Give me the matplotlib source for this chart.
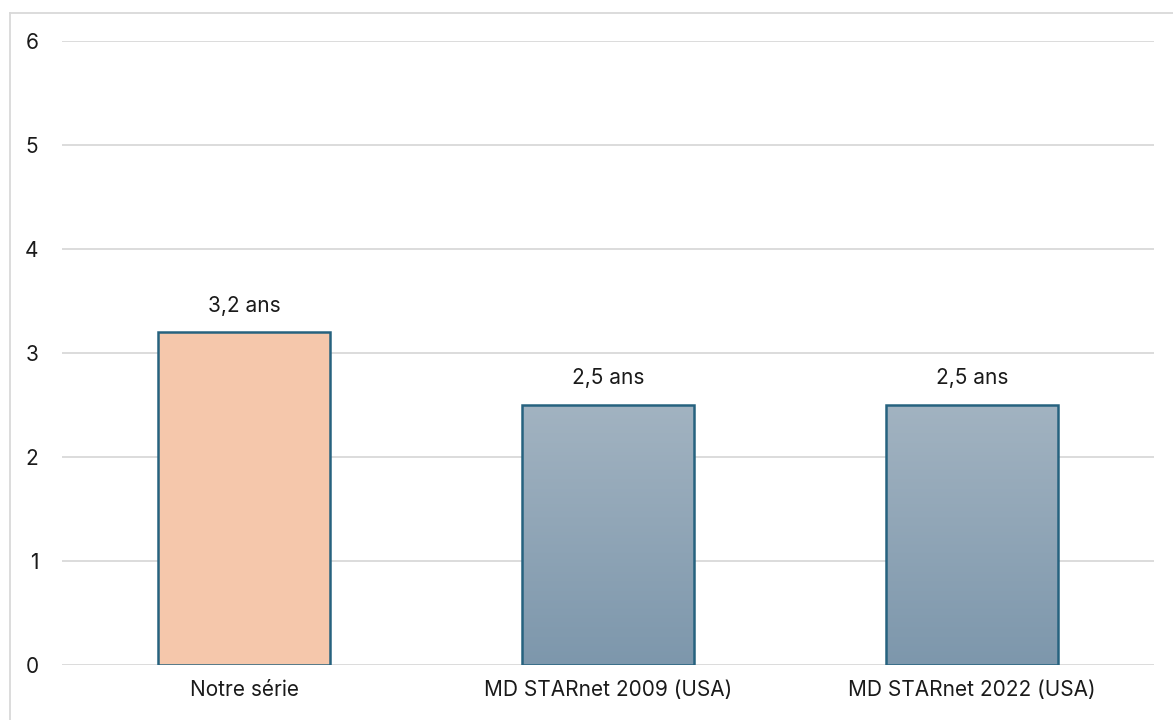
import matplotlib
matplotlib.use("Agg")
import matplotlib.pyplot as plt
import numpy as np
from matplotlib.colors import LinearSegmentedColormap

categories = ["Notre série", "MD STARnet 2009 (USA)", "MD STARnet 2022 (USA)"]
values = [3.2, 2.5, 2.5]
value_labels = ["3,2 ans", "2,5 ans", "2,5 ans"]
yticks = [0, 1, 2, 3, 4, 5, 6]

plt.rcParams['font.family'] = ['Inter', 'DejaVu Sans']

W, H = 1173, 720
fig = plt.figure(figsize=(W / 100, H / 100), dpi=100)
ax = fig.add_axes([62 / W, 1 - 665 / H, 1092 / W, 624 / H])

edge = "#26627f"
peach = "#f5c7ab"
x = np.arange(len(categories))
bars = ax.bar(x, values, width=0.473, color=[peach, "none", "none"],
              edgecolor=edge, linewidth=1.8, zorder=3)

grad_cmap = LinearSegmentedColormap.from_list("bluegrey", ["#7d97ac", "#a2b3c1"])
grad = np.linspace(0, 1, 256).reshape(-1, 1)
for b in bars[1:]:
    x0, w, h = b.get_x(), b.get_width(), b.get_height()
    im = ax.imshow(grad, cmap=grad_cmap, origin="lower", aspect="auto",
                   extent=[x0, x0 + w, 0, h], zorder=2.5)
    im.set_clip_path(b)

fs = 15
for b, lab in zip(bars, value_labels):
    ax.annotate(lab, (b.get_x() + b.get_width() / 2, b.get_height()),
                xytext=(0, 12), textcoords="offset points",
                ha="center", va="bottom", fontsize=fs, color="#1a1a1a")

ax.set_xlim(-0.5, len(categories) - 0.5)
ax.set_ylim(0, 6)
ax.set_yticks(yticks)
ax.set_yticklabels([str(t) for t in yticks])
ax.set_xticks(x)
ax.set_xticklabels(categories)
ax.tick_params(axis="both", length=0, labelsize=fs, colors="#1a1a1a")
ax.tick_params(axis="y", pad=17)
ax.tick_params(axis="x", pad=11)
ax.yaxis.grid(True, color="#d9d9d9", linewidth=1.3, zorder=0)
ax.set_axisbelow(True)
for s in ax.spines.values():
    s.set_visible(False)

# chart area border (extends past the right and bottom edges)
fx, fy = 9.5 / W, 1 - 12.5 / H
fig.add_artist(plt.Line2D([fx, fx], [fy, -0.1], color="#d9d9d9", linewidth=1.3))
fig.add_artist(plt.Line2D([fx, 1.1], [fy, fy], color="#d9d9d9", linewidth=1.3))

fig.savefig("out.png", dpi=100)
